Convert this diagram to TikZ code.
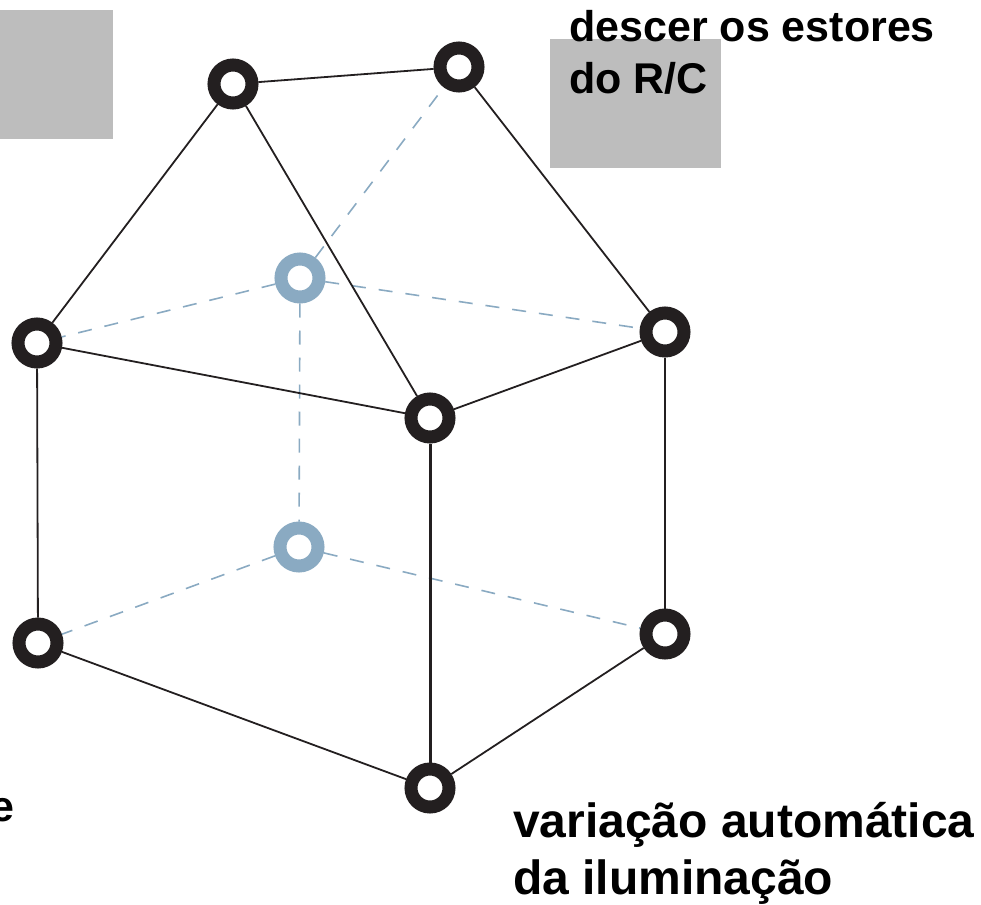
\documentclass[tikz,border=0pt]{standalone}
\usepackage{fontspec}
\setmainfont{Liberation Sans}
\usepackage{xcolor}
\usepackage{tikz}
\usetikzlibrary{calc}
\usetikzlibrary{positioning}
\definecolor{paleblue}{HTML}{8AAAC2}
\definecolor{boxgrey}{HTML}{BDBDBD}
\definecolor{ringblack}{HTML}{231F20}
\tikzstyle{vertex} = [circle, draw=ringblack, fill=white, line width=13pt, minimum size=38pt, inner sep=0]
\tikzstyle{hidden} = [circle, draw=paleblue, fill=white, line width=13pt, minimum size=38pt, inner sep=0]
\tikzstyle{edge} = [-, draw=ringblack, line width=1.8pt]
\tikzstyle{backedge} = [-, draw=paleblue, line width=1.6pt, dash pattern=on 14pt off 13pt]
\tikzstyle{greybox} = [rectangle, draw=none, fill=boxgrey, inner sep=0, anchor=north west]
\tikzstyle{smalllabel} = [draw=none, inner sep=0, align=left, anchor=north west, font=\fontsize{43}{52}\selectfont\bfseries]
\tikzstyle{biglabel} = [draw=none, inner sep=0, align=left, anchor=north west, font=\fontsize{48}{57}\selectfont\bfseries]

\begin{document}
\begin{tikzpicture}[x=1pt, y=-1pt]
\useasboundingbox (0,0) rectangle (981,904);
\node [greybox, minimum width=115pt, minimum height=129pt] (leftbox) at (-2,10) {};
\node [greybox, minimum width=171pt, minimum height=129pt] (rightbox) at (550,39) {};
% hidden edges go first
\node [hidden] (backtop) at (300,278) {};
\node [hidden] (backlow) at (299,547) {};
\node [vertex] (roofl) at (233,84) {};
\node [vertex] (roofr) at (459,67) {};
\node [vertex] (midl) at (37,343) {};
\node [vertex] (midf) at (430,418) {};
\node [vertex] (midr) at (665,332) {};
\node [vertex] (lowl) at (38,643) {};
\node [vertex] (lowf) at (430,788) {};
\node [vertex] (lowr) at (665,634) {};
\draw [backedge] (backtop) to (roofr);
\draw [backedge] (backtop) to (midl);
\draw [backedge] (backtop) to (midr);
\draw [backedge] (backtop) to (backlow);
\draw [backedge] (backlow) to (lowl);
\draw [backedge] (backlow) to (lowr);
\draw [edge] (roofl) to (roofr);
\draw [edge] (roofl) to (midl);
\draw [edge] (roofl) to (midf);
\draw [edge] (roofr) to (midr);
\draw [edge] (midl) to (midf);
\draw [edge] (midf) to (midr);
\draw [edge] (midl) to (lowl);
\draw [edge, line width=3pt] (midf) to (lowf);
\draw [edge] (midr) to (lowr);
\draw [edge] (lowl) to (lowf);
\draw [edge] (lowf) to (lowr);
\node [smalllabel] (shutters) at (569,10) {descer os estores\\do R/C};
\node [biglabel] (lighting) at (513,802) {variação automática\\da iluminação};
\node [smalllabel] (cutword) at (-10,798) {e};
\end{tikzpicture}
\end{document}
